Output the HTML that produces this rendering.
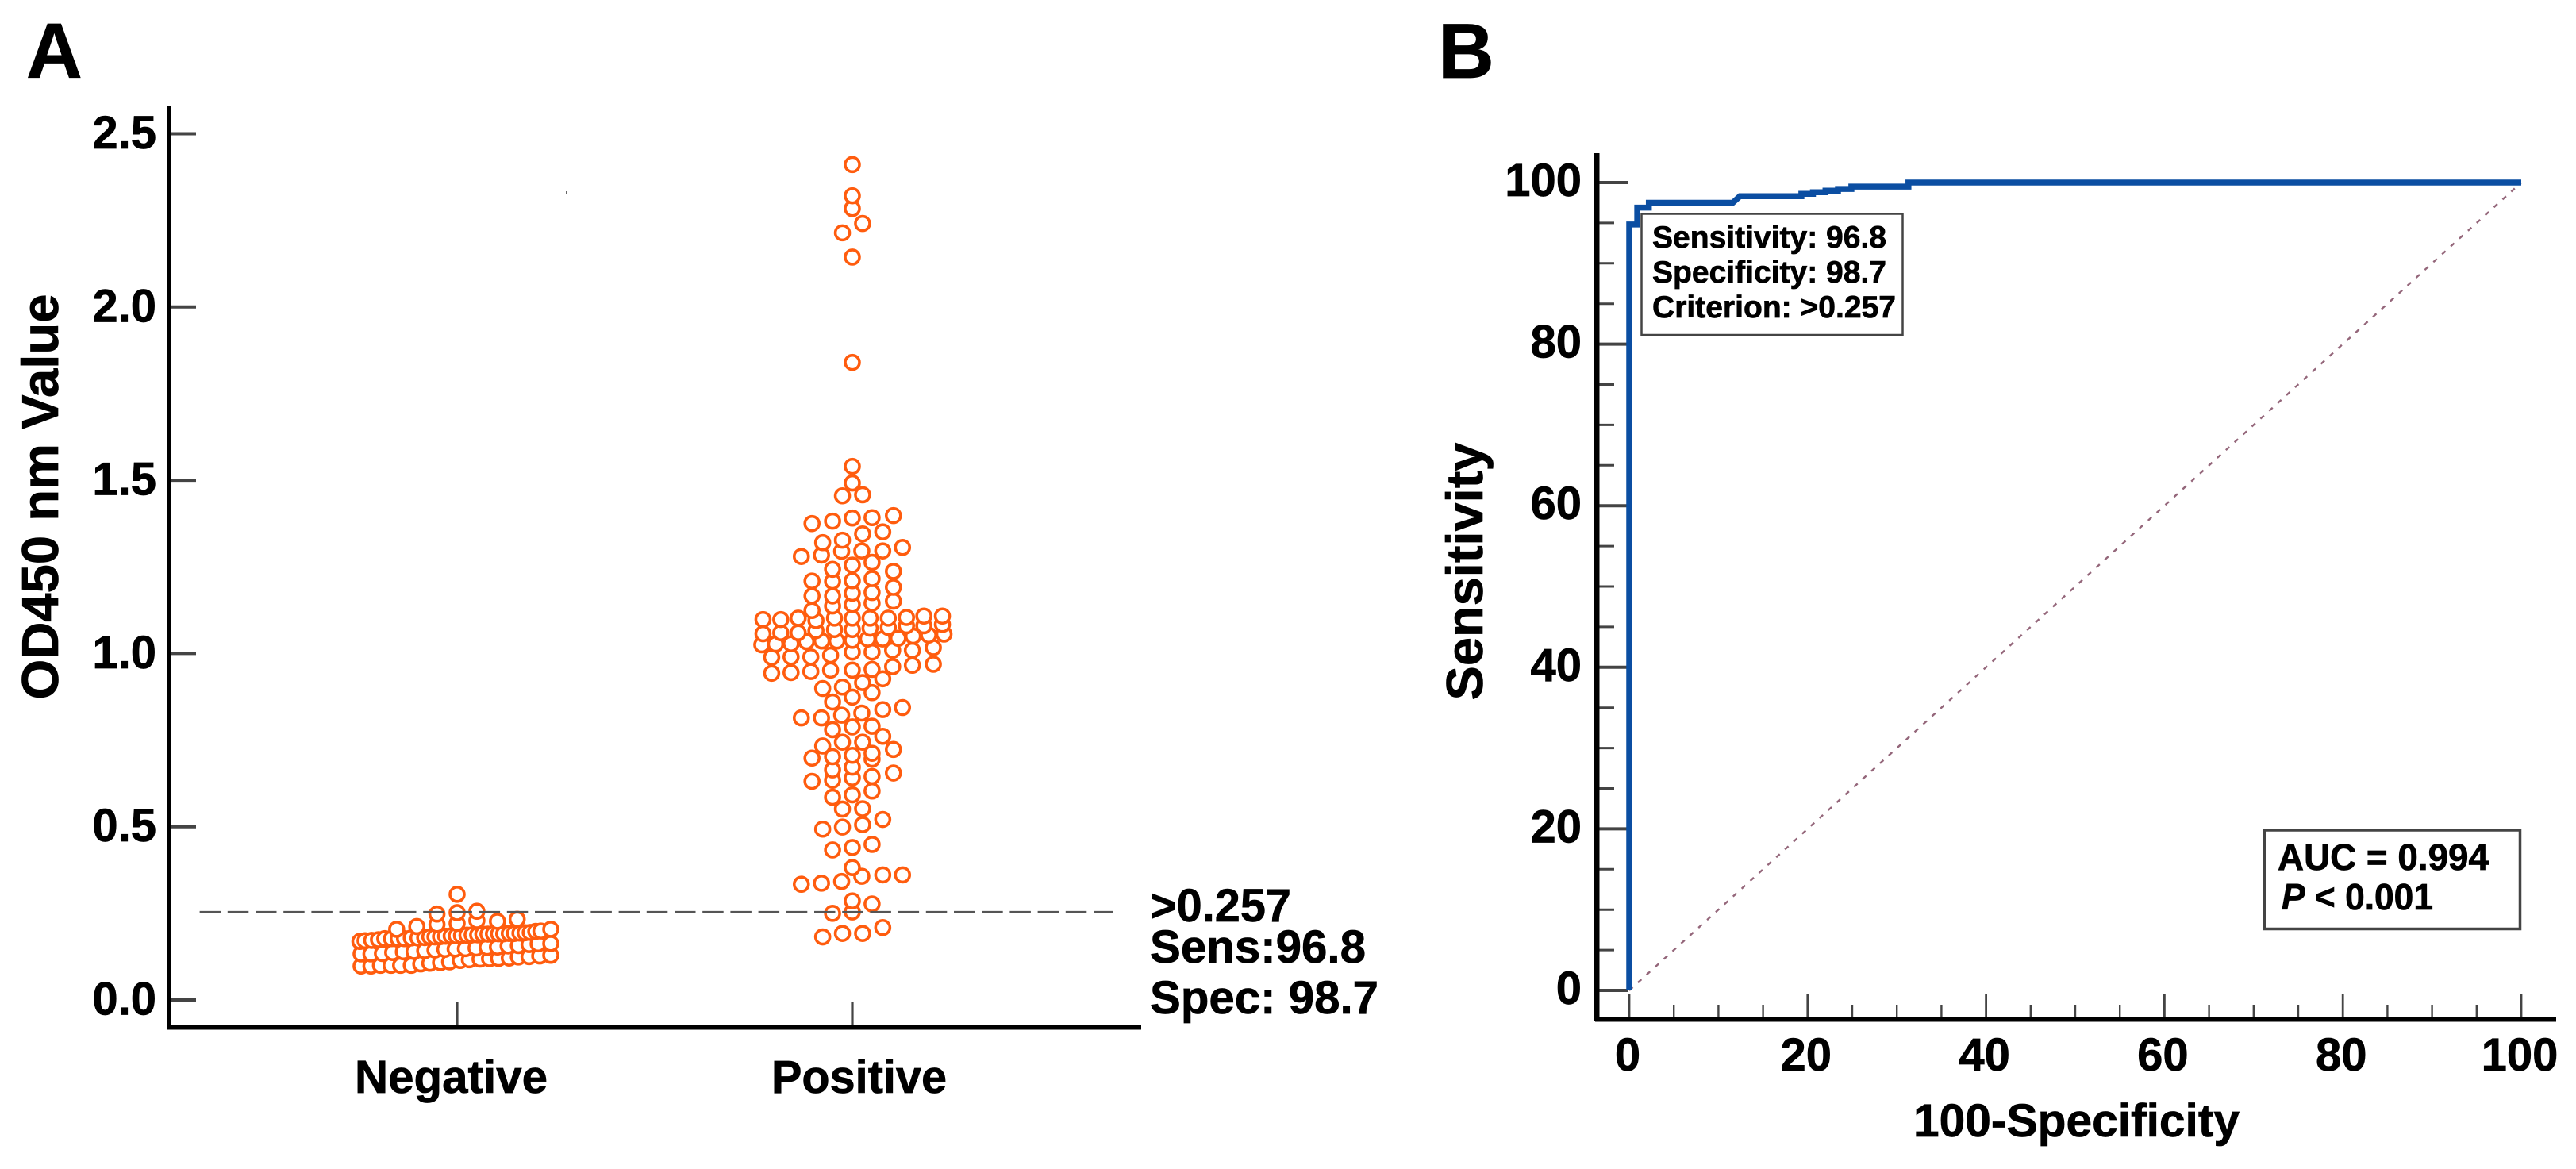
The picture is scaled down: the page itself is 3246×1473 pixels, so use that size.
<!DOCTYPE html>
<html lang="en">
<head>
<meta charset="utf-8">
<title>OD450 dot plot and ROC curve</title>
<style>
  html, body { margin: 0; padding: 0; background: #fff; }
  svg { display: block; }
  text { font-family: "Liberation Sans", Arial, sans-serif; font-weight: 700; fill: #000; stroke: #000; stroke-width: 0.7px; }
</style>
</head>
<body>
<svg id="figure" xmlns="http://www.w3.org/2000/svg" width="3246" height="1473" viewBox="0 0 3246 1473">
  <rect x="0" y="0" width="3246" height="1473" fill="#fff"/>

  <!-- Panel A -->
  <g id="panel-a">
    <text x="33" y="98" font-size="98">A</text>
    <text transform="translate(73,626) rotate(-90)" text-anchor="middle" font-size="65" textLength="511" lengthAdjust="spacingAndGlyphs">OD450 nm Value</text>
    <g id="a-ticks"></g>
    <rect x="210.5" y="134" width="5.5" height="1163" fill="#000"/>
    <rect x="210.5" y="1291" width="1227.5" height="6.5" fill="#000"/>
    <g id="a-points"></g>
    <line id="cutoff-line" x1="251.6" x2="1403" stroke="#555" stroke-width="3" stroke-dasharray="26.5 8.7"/>
    <rect x="713" y="241" width="2" height="3" fill="#666"/>
    <text x="447" y="1377" font-size="58" textLength="243" lengthAdjust="spacingAndGlyphs">Negative</text>
    <text x="972" y="1377" font-size="58" textLength="221" lengthAdjust="spacingAndGlyphs">Positive</text>
    <text x="1449" y="1161" font-size="58" textLength="178" lengthAdjust="spacingAndGlyphs">&gt;0.257</text>
    <text x="1449" y="1213" font-size="58" textLength="272" lengthAdjust="spacingAndGlyphs">Sens:96.8</text>
    <text x="1449" y="1277" font-size="58" textLength="288" lengthAdjust="spacingAndGlyphs">Spec: 98.7</text>
  </g>

  <!-- Panel B -->
  <g id="panel-b">
    <text x="1812" y="98" font-size="98">B</text>
    <text transform="translate(1868,720) rotate(-90)" text-anchor="middle" font-size="65" textLength="325" lengthAdjust="spacingAndGlyphs">Sensitivity</text>
    <text x="2411" y="1432" font-size="58" textLength="411" lengthAdjust="spacingAndGlyphs">100-Specificity</text>
    <g id="b-ticks"></g>
    <rect x="2008.5" y="193" width="7" height="1094" fill="#000"/>
    <rect x="2010" y="1281" width="1211" height="6.5" fill="#000"/>
    <line id="roc-diagonal" stroke="#94667a" stroke-width="2.4" stroke-dasharray="6 8.7"/>
    <path id="roc-curve" fill="none" stroke="#0b4ea2" stroke-width="7.5" stroke-linejoin="miter"/>
    <g>
      <rect x="2068.5" y="269.5" width="329" height="152.5" fill="#fff" stroke="#444" stroke-width="2.5"/>
      <text x="2082" y="312" font-size="39" textLength="295" lengthAdjust="spacingAndGlyphs">Sensitivity: 96.8</text>
      <text x="2082" y="356" font-size="39" textLength="295" lengthAdjust="spacingAndGlyphs">Specificity: 98.7</text>
      <text x="2082" y="400" font-size="39" textLength="307" lengthAdjust="spacingAndGlyphs">Criterion: &gt;0.257</text>
    </g>
    <g>
      <rect x="2853.5" y="1046" width="322" height="124.5" fill="#fff" stroke="#444" stroke-width="3.5"/>
      <text x="2870" y="1096" font-size="46" textLength="266" lengthAdjust="spacingAndGlyphs">AUC = 0.994</text>
      <text x="2875" y="1146" font-size="46" textLength="191" lengthAdjust="spacingAndGlyphs"><tspan font-style="italic">P</tspan> &lt; 0.001</text>
    </g>
  </g>
</svg>

<script>
/* ---------- Panel A data ---------- */
const categories = ["Negative", "Positive"];
const aTickValues = [0, 0.5, 1, 1.5, 2, 2.5];
const aTickLabels = ["0.0", "0.5", "1.0", "1.5", "2.0", "2.5"];
const cutoffValue = 0.2535;

const negativeValues = [
  .098,.098,.100,.100,.100,.100,.104,.106,.108,.110,.114,.116,.118,.119,.120,.121,.124,.125,.127,.129,
  .133,.133,.134,.137,.139,.140,.142,.144,.146,.147,.148,.150,.152,.153,.156,.157,.160,.162,.163,
  .169,.171,.172,.174,.177,.177,.177,.177,.179,.179,.180,.182,.182,.183,.184,.185,.185,.186,.187,.188,.188,.190,.190,.191,.191,.191,.192,.192,.193,.194,.195,.198,.199,.204,
  .305,.248,.252,.256,.218,.221,.229,.227,.233,.204,.212
];
const negativeJitter = [
  -.243,-.218,-.194,-.167,-.143,-.116,-.092,-.069,-.042,-.019,.008,.031,.058,.082,.105,.132,.155,.182,.209,.237,
  -.243,-.218,-.189,-.163,-.136,-.109,-.082,-.056,-.031,-.005,.021,.048,.076,.102,.129,.155,.182,.205,.237,
  -.246,-.233,-.216,-.199,-.183,-.166,-.149,-.133,-.116,-.099,-.082,-.069,-.056,-.042,-.029,-.015,-.002,.011,.025,.038,.052,.065,.078,.092,.105,.118,.132,.145,.159,.172,.185,.199,.212,.237,
  0,-.051,0,.050,-.051,0,.050,.102,.152,-.153,-.102
];

const positiveValues = [
  2.411,2.321,2.284,2.241,2.214,2.144,1.840,1.540,
  1.492,1.455,1.458,
  1.375,1.382,1.391,1.392,1.398,
  1.345,1.351,
  1.320,1.327,
  1.280,1.284,1.295,1.296,1.296,1.306,
  1.263,1.255,1.243,1.237,
  1.216,1.210,1.208,1.209,1.191,
  1.176,1.174,1.166,1.166,
  1.145,1.141,1.137,1.151,
  1.124,
  1.098,1.098,1.102,1.095,1.102,1.102,1.102,1.102,1.104,1.108,1.108,
  1.084,1.080,1.075,1.080,
  1.069,1.069,1.073,
  1.057,1.060,1.060,1.066,1.056,
  1.025,1.027,1.028,1.034,1.036,1.036,1.038,1.042,1.042,1.044,1.050,1.053,
  1.004,1.004,1.009,1.009,1.017,
  .989,.990,.990,.995,
  .943,.945,.948,.952,.952,.954,.962,.966,.969,
  .927,.916,.903,.899,
  .887,.874,.860,
  .844,.838,
  .814,.814,.822,.828,
  .790,.788,.780,
  .761,.744,.744,.733,.723,
  .712,.706,.702,.698,.695,
  .672,.664,.655,
  .645,.641,.634,.631,
  .603,.592,.585,
  .552,.551,.521,.506,.499,.493,
  .449,.440,.433,
  .382,
  .361,.361,.357,.342,.337,.334,
  .286,.277,.254,.250,
  .209,.192,.192,.182
];
const positiveJitter = [
  0,0,0,.026,-.025,0,0,0,
  0,-.025,.026,
  -.102,-.05,0,.05,.104,
  .026,.077,
  -.075,-.025,
  -.129,-.078,-.027,.024,.077,.127,
  .05,0,-.05,.104,
  .05,0,-.05,-.102,.104,
  .05,0,-.05,-.102,
  .05,0,-.05,.104,
  -.102,
  -.226,-.181,-.137,-.092,-.045,0,.045,.091,.137,.181,.228,
  .228,.137,.091,.181,
  -.045,0,.045,
  -.226,-.181,-.137,-.092,.232,
  -.229,-.194,-.155,-.116,-.077,-.039,0,.039,.077,.116,.154,.193,
  0,.05,.102,.152,.205,
  -.204,-.155,-.105,-.055,
  -.204,-.155,-.105,-.055,0,.05,.102,.152,.205,
  .077,.026,-.025,-.075,
  .05,0,-.05,
  .127,.077,
  -.129,-.078,-.027,.024,
  .05,0,-.05,
  .077,.026,-.025,-.075,.104,
  .05,0,-.05,-.102,.05,
  0,-.05,.104,
  .05,0,-.05,-.102,
  .05,0,-.05,
  .026,-.025,.077,.026,-.025,-.075,
  .05,0,-.05,
  0,
  .127,.077,.024,-.027,-.078,-.129,
  0,.05,0,-.05,
  .077,.026,-.025,-.075
];

/* ---------- Panel B data ---------- */
const bTickValues = [0, 20, 40, 60, 80, 100];
const bMinorValues = [5, 10, 15, 25, 30, 35, 45, 50, 55, 65, 70, 75, 85, 90, 95];
const rocFalsePositive = [0, 0, 0.9, 0.9, 2.2, 2.2, 11.6, 12.4, 18.3, 19.3, 19.3, 20.6, 20.6, 22, 22, 23.4, 23.4, 24.9, 24.9, 31.3, 31.3, 100];
const rocSensitivity = [0, 94.8, 94.8, 96.9, 96.9, 97.5, 97.5, 98.3, 98.3, 98.3, 98.6, 98.6, 98.8, 98.8, 99, 99, 99.2, 99.2, 99.5, 99.5, 100, 100];
const diagonalValues = [0, 100];

/* ---------- Axis functions ---------- */
const xA = c => 576 + 498 * c;
const yA = v => 1260 - 436.6 * v;
const xB = v => 2053 + 11.24 * v;
const yB = v => 1248 - 10.18 * v;

const NS = "http://www.w3.org/2000/svg";
function make(tag, parent, attrs, content) {
  const el = document.createElementNS(NS, tag);
  for (const k in attrs) el.setAttribute(k, attrs[k]);
  if (content !== undefined) el.textContent = content;
  parent.appendChild(el);
  return el;
}

/* Panel A ticks */
const aTicks = document.getElementById("a-ticks");
aTickValues.forEach((v, i) => {
  const tick = make("line", aTicks, { x1: 214, x2: 247, y1: yA(v), y2: yA(v), stroke: "#444", "stroke-width": 4 });
  
  
  const label = make("text", aTicks, { x: 197, y: yA(v) + 18.5, "text-anchor": "end", "font-size": 58 }, aTickLabels[i]);
  
  
});
categories.forEach((c, i) => {
  const tick = make("line", aTicks, { x1: xA(i), x2: xA(i), y1: 1263, y2: 1294, stroke: "#444", "stroke-width": 3.2 });
  
  
});

/* Panel A points: white-filled rings, lower values drawn first */
const aPoints = document.getElementById("a-points");
function drawGroup(catIndex, values, jitter, name) {
  const order = values.map((_, i) => i).sort((a, b) => values[a] - values[b]);
  order.forEach(i => {
    const dot = make("circle", aPoints, {
      cx: xA(catIndex + jitter[i]), cy: yA(values[i]), r: 9,
      fill: "#fff", stroke: "#ff5c0e", "stroke-width": 3.6
    });
    
    
  });
}
drawGroup(0, negativeValues, negativeJitter, 'negative-point');
drawGroup(1, positiveValues, positiveJitter, 'positive-point');

const cutoff = document.getElementById("cutoff-line");
cutoff.setAttribute("y1", yA(cutoffValue));
cutoff.setAttribute("y2", yA(cutoffValue));

/* Panel B ticks */
const bTicks = document.getElementById("b-ticks");
bTickValues.forEach(v => {
  const yTick = make("line", bTicks, { x1: 2014, x2: 2052, y1: yB(v), y2: yB(v), stroke: "#444", "stroke-width": 4 });
  
  
  const yLabel = make("text", bTicks, { x: 1993, y: yB(v) + 17, "text-anchor": "end", "font-size": 58 }, String(v));
  
  
  const xTick = make("line", bTicks, { x1: xB(v), x2: xB(v), y1: 1252, y2: 1284, stroke: "#444", "stroke-width": 2.8 });
  
  
  const xLabel = make("text", bTicks, { x: xB(v) - 2, y: 1349, "text-anchor": "middle", "font-size": 58 }, String(v));
  
  
});
bMinorValues.forEach(v => {
  const yMinor = make("line", bTicks, { x1: 2014, x2: 2034, y1: yB(v), y2: yB(v), stroke: "#444", "stroke-width": 3 });
  
  
  const xMinor = make("line", bTicks, { x1: xB(v), x2: xB(v), y1: 1266, y2: 1284, stroke: "#444", "stroke-width": 2.4 });
  
  
});

/* ROC curve and diagonal */
const diag = document.getElementById("roc-diagonal");
diag.setAttribute("x1", xB(diagonalValues[0]));
diag.setAttribute("y1", yB(diagonalValues[0]));
diag.setAttribute("x2", xB(diagonalValues[1]));
diag.setAttribute("y2", yB(diagonalValues[1]));
document.getElementById("roc-curve").setAttribute("d",
  rocFalsePositive.map((x, i) => (i ? "L" : "M") + xB(x).toFixed(1) + " " + yB(rocSensitivity[i]).toFixed(1)).join(" "));
</script>
</body>
</html>
